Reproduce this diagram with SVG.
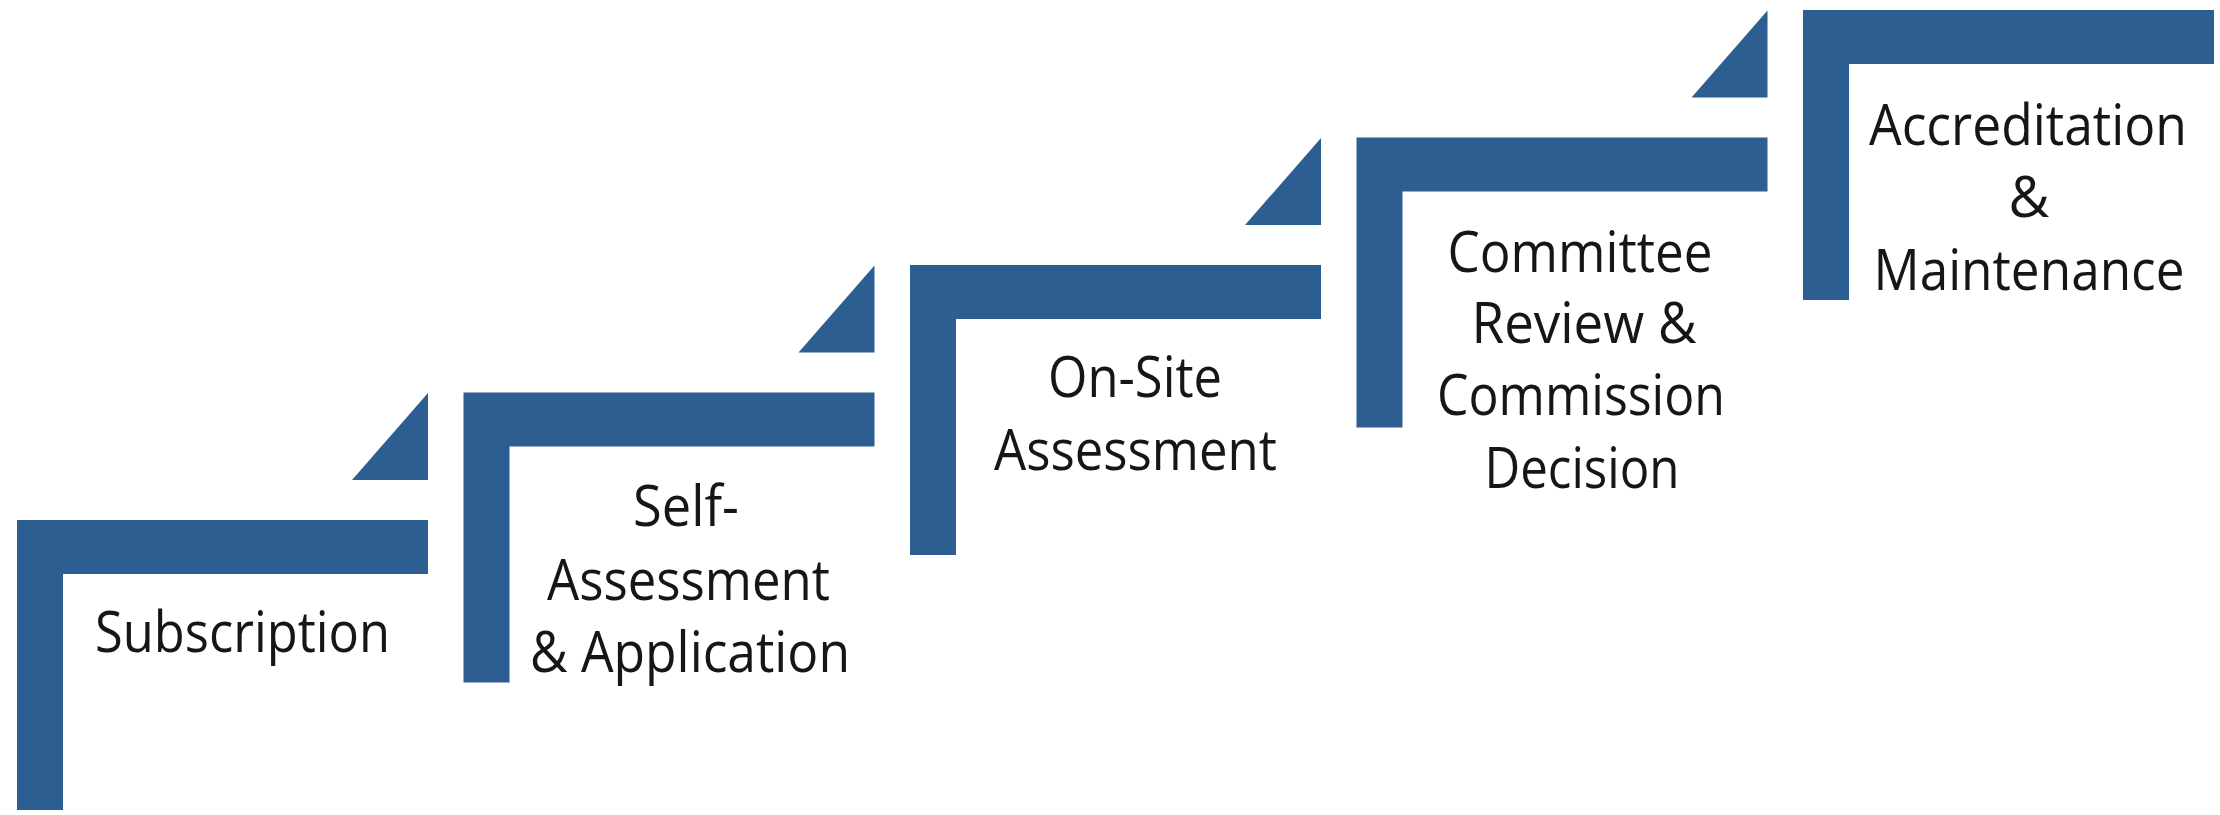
<svg xmlns="http://www.w3.org/2000/svg" width="2220" height="815" viewBox="0 0 2220 815">
  <style>
    .bar { fill: #2C5E92; }
    .tri { fill: #2C5E92; }
    .lbl { font-family: "Open Sans", "Liberation Sans", sans-serif; font-size: 56px; font-weight: 500; fill: #161616; text-anchor: middle; }
  </style>
  <rect x="0" y="0" width="2220" height="815" fill="#ffffff"/>

  <g id="connectors">
    <polygon class="tri" points="428,393 352,480 428,480"/>
    <polygon class="tri" points="874.5,265.5 798.5,352.5 874.5,352.5"/>
    <polygon class="tri" points="1321,138 1245,225 1321,225"/>
    <polygon class="tri" points="1767.5,10.5 1691.5,97.5 1767.5,97.5"/>
  </g>

  <g id="step1">
    <path class="bar" d="M17 520 H428 V574 H63 V810 H17 Z"/>
    <text class="lbl" x="242.5" y="652" textLength="295" lengthAdjust="spacingAndGlyphs">Subscription</text>
  </g>

  <g id="step2">
    <path class="bar" d="M463.5 392.5 H874.5 V446.5 H509.5 V682.5 H463.5 Z"/>
    <text class="lbl" x="686" y="526" textLength="106" lengthAdjust="spacingAndGlyphs">Self-</text>
    <text class="lbl" x="688.5" y="600" textLength="283" lengthAdjust="spacingAndGlyphs">Assessment</text>
    <text class="lbl" x="690" y="672" textLength="320" lengthAdjust="spacingAndGlyphs">&amp; Application</text>
  </g>

  <g id="step3">
    <path class="bar" d="M910 265 H1321 V319 H956 V555 H910 Z"/>
    <text class="lbl" x="1135" y="397" textLength="174" lengthAdjust="spacingAndGlyphs">On-Site</text>
    <text class="lbl" x="1135.5" y="470" textLength="283" lengthAdjust="spacingAndGlyphs">Assessment</text>
  </g>

  <g id="step4">
    <path class="bar" d="M1356.5 137.5 H1767.5 V191.5 H1402.5 V427.5 H1356.5 Z"/>
    <text class="lbl" x="1580" y="272" textLength="265" lengthAdjust="spacingAndGlyphs">Committee</text>
    <text class="lbl" x="1584" y="343" textLength="225" lengthAdjust="spacingAndGlyphs">Review &amp;</text>
    <text class="lbl" x="1581" y="415" textLength="288" lengthAdjust="spacingAndGlyphs">Commission</text>
    <text class="lbl" x="1582" y="488" textLength="195" lengthAdjust="spacingAndGlyphs">Decision</text>
  </g>

  <g id="step5">
    <path class="bar" d="M1803 10 H2214 V64 H1849 V300 H1803 Z"/>
    <text class="lbl" x="2028" y="145" textLength="318" lengthAdjust="spacingAndGlyphs">Accreditation</text>
    <text class="lbl" x="2029" y="217">&amp;</text>
    <text class="lbl" x="2029" y="290" textLength="311" lengthAdjust="spacingAndGlyphs">Maintenance</text>
  </g>
</svg>
